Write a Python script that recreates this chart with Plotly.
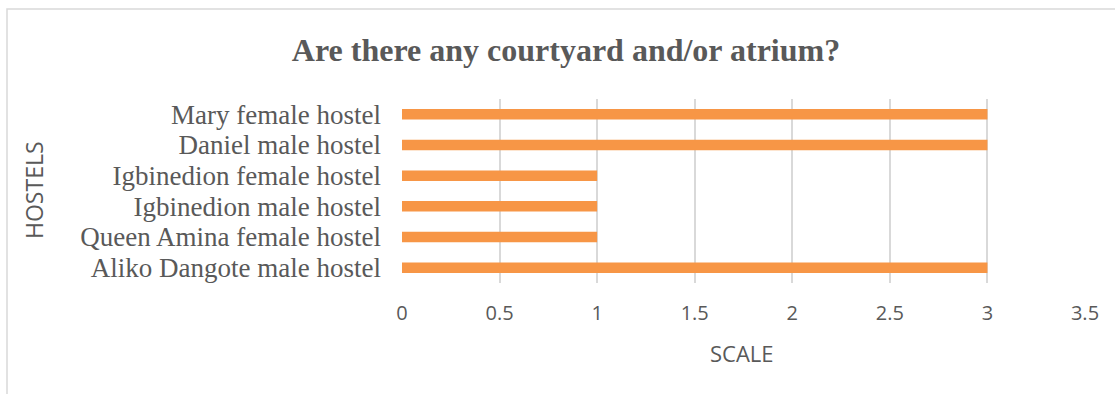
import plotly.graph_objects as go

hostels = [
    "Aliko Dangote male hostel",
    "Queen Amina female hostel",
    "Igbinedion male hostel",
    "Igbinedion female hostel",
    "Daniel male hostel",
    "Mary female hostel",
]
scale_values = [3, 1, 1, 1, 3, 3]
x_ticks = [0, 0.5, 1, 1.5, 2, 2.5, 3, 3.5]
x_tick_labels = ["0", "0.5", "1", "1.5", "2", "2.5", "3", "3.5"]

TXT = "#595959"
GRID = "#D9D9D9"

fig = go.Figure(
    go.Bar(
        x=scale_values,
        y=hostels,
        orientation="h",
        marker=dict(color="#F79646", line=dict(width=0)),
        hoverinfo="x+y",
    )
)

W, H = 1115, 394
L, R, T, B = 402, 30, 99, 111
pw, ph = W - L - R, H - T - B

def px_x(px):
    return (px - L) / pw

def px_y(py):
    return (H - B - py) / ph

fig.update_layout(
    width=W,
    height=H,
    margin=dict(l=L, r=R, t=T, b=B, pad=0),
    paper_bgcolor="white",
    plot_bgcolor="white",
    bargap=0.655,
    showlegend=False,
    title=dict(
        text="<b>Are there any courtyard and/or atrium?</b>",
        font=dict(family="Liberation Serif", size=32, color=TXT),
        xref="container", yref="container",
        x=566 / W, y=1 - 50 / H, xanchor="center", yanchor="middle",
    ),
    xaxis=dict(
        range=[0, 3.5],
        tickvals=x_ticks,
        ticktext=x_tick_labels,
        showgrid=True, gridcolor=GRID, gridwidth=1.5,
        zeroline=False, showline=False, ticks="",
        ticklabelstandoff=16,
        tickfont=dict(family="Open Sans", size=20, color=TXT),
        fixedrange=True,
    ),
    yaxis=dict(
        type="category",
        tickmode="array",
        tickvals=hostels,
        ticktext=hostels,
        showgrid=False, zeroline=False, showline=False, ticks="",
        ticklabelstandoff=20,
        tickfont=dict(family="Liberation Serif", size=27, color=TXT),
        fixedrange=True,
    ),
    annotations=[
        dict(text="SCALE", xref="paper", yref="paper",
             x=px_x(742), y=px_y(353), xanchor="center", yanchor="middle",
             showarrow=False, font=dict(family="Open Sans", size=22, color=TXT)),
        dict(text="HOSTELS", xref="paper", yref="paper", textangle=-90,
             x=px_x(34), y=px_y(190), xanchor="center", yanchor="middle",
             showarrow=False, font=dict(family="Open Sans", size=23, color=TXT)),
    ],
    shapes=[
        dict(type="rect", xref="paper", yref="paper",
             x0=px_x(7), y0=px_y(9), x1=px_x(1130), y1=px_y(410),
             line=dict(color=GRID, width=1.5), fillcolor="rgba(0,0,0,0)", layer="below"),
    ],
)

fig.write_html("out.html")
